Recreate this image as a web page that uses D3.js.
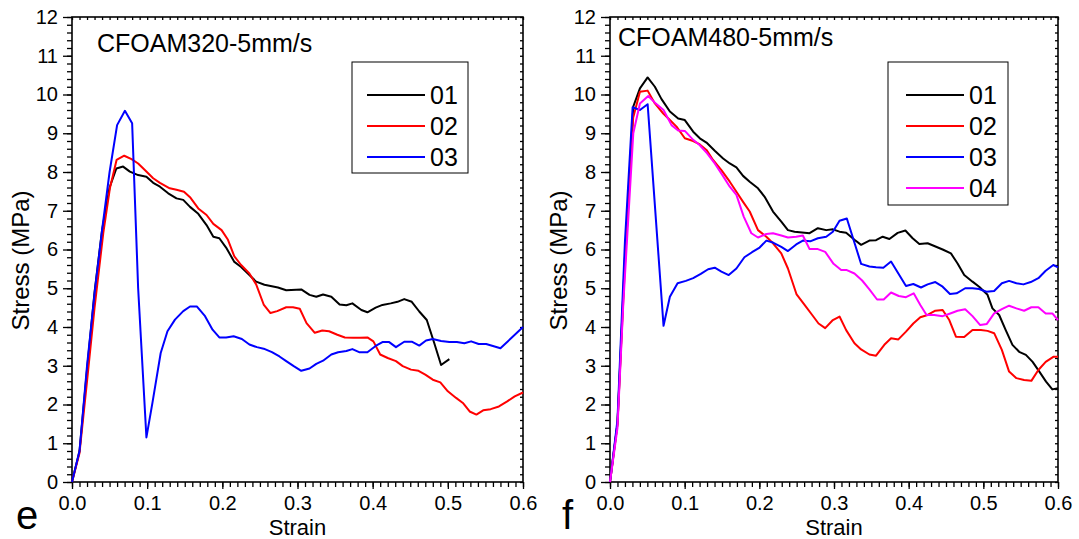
<!DOCTYPE html>
<html><head><meta charset="utf-8">
<script src="https://cdn.jsdelivr.net/npm/d3@7"></script>
<style>
body{margin:0;background:#fff;}
text{font-family:"Liberation Sans",Arial,sans-serif;fill:#000;}
</style>
</head><body>
<svg id="chart" width="1079" height="539"></svg>
<script>
// ---------------- DATA ----------------
const xTicks = [0, 0.1, 0.2, 0.3, 0.4, 0.5, 0.6];
const yTicks = [0,1,2,3,4,5,6,7,8,9,10,11,12];
const seriesNames = ["01","02","03","04"];
const seriesColors = ["#000000","#ff0000","#0000ff","#ff00ff"];

// Panel e: CFOAM320-5mm/s
const e01_strain = [0,0.01,0.02,0.03,0.04,0.05,0.059,0.068,0.077,0.088,0.099,0.108,0.117,0.128,0.139,0.148,0.157,0.168,0.179,0.188,0.196,0.205,0.216,0.225,0.236,0.245,0.256,0.274,0.285,0.305,0.316,0.325,0.334,0.345,0.356,0.365,0.373,0.385,0.393,0.404,0.413,0.424,0.433,0.442,0.452,0.462,0.472,0.482,0.491,0.502];
const e01_stress = [0,0.8,2.9,4.9,6.5,7.6,8.09,8.14,8.01,7.92,7.88,7.72,7.62,7.45,7.32,7.28,7.10,6.92,6.63,6.33,6.29,6.05,5.68,5.55,5.34,5.17,5.09,5.02,4.95,4.97,4.83,4.78,4.84,4.78,4.58,4.56,4.61,4.44,4.38,4.50,4.57,4.61,4.65,4.72,4.65,4.40,4.18,3.58,3.02,3.17];

const e02_strain = [0,0.01,0.02,0.03,0.0416,0.0504,0.0593,0.0695,0.0792,0.088,0.0969,0.108,0.117,0.130,0.139,0.149,0.157,0.168,0.179,0.188,0.199,0.2075,0.216,0.225,0.236,0.245,0.255,0.264,0.273,0.285,0.294,0.303,0.312,0.323,0.333,0.342,0.353,0.363,0.374,0.383,0.393,0.401,0.41,0.42,0.431,0.44,0.451,0.461,0.47,0.48,0.49,0.5,0.511,0.52,0.529,0.538,0.547,0.557,0.568,0.579,0.589,0.6];
const e02_stress = [0,0.75,2.6,4.5,6.42,7.58,8.31,8.42,8.33,8.22,8.05,7.84,7.72,7.58,7.54,7.49,7.35,7.06,6.89,6.66,6.50,6.25,5.82,5.60,5.38,5.10,4.58,4.36,4.41,4.51,4.51,4.47,4.10,3.85,3.91,3.89,3.80,3.73,3.72,3.72,3.73,3.63,3.29,3.20,3.12,2.99,2.90,2.87,2.77,2.64,2.57,2.34,2.17,2.04,1.82,1.74,1.85,1.88,1.95,2.08,2.21,2.31];

const e03_strain = [0,0.01,0.02,0.0305,0.04,0.05,0.06,0.0704,0.080,0.088,0.099,0.107,0.118,0.127,0.137,0.148,0.157,0.166,0.177,0.187,0.196,0.205,0.215,0.226,0.236,0.246,0.255,0.266,0.276,0.285,0.295,0.305,0.316,0.325,0.334,0.345,0.354,0.365,0.373,0.382,0.393,0.404,0.413,0.422,0.431,0.442,0.452,0.462,0.471,0.480,0.491,0.502,0.512,0.522,0.531,0.541,0.551,0.560,0.570,0.6];
const e03_stress = [0,0.8,3.0,4.95,6.5,8.0,9.21,9.58,9.26,5.0,1.15,2.04,3.33,3.89,4.19,4.41,4.53,4.53,4.28,3.93,3.73,3.73,3.76,3.69,3.55,3.48,3.44,3.35,3.24,3.12,2.99,2.87,2.93,3.05,3.13,3.29,3.35,3.38,3.43,3.35,3.35,3.51,3.61,3.61,3.48,3.62,3.62,3.52,3.65,3.69,3.64,3.61,3.61,3.58,3.63,3.56,3.56,3.51,3.45,4.0];

// Panel f: CFOAM480-5mm/s
const f01_strain = [0,0.01,0.02,0.0312,0.0401,0.0504,0.0601,0.069,0.0802,0.0913,0.1002,0.1114,0.1203,0.1292,0.1403,0.1515,0.1604,0.1693,0.1782,0.1871,0.1982,0.2071,0.2183,0.2294,0.2383,0.2472,0.2673,0.2784,0.2896,0.2985,0.3074,0.3163,0.3274,0.3363,0.3474,0.3563,0.3652,0.3742,0.3853,0.3956,0.4053,0.4143,0.4254,0.4343,0.4455,0.4566,0.4655,0.4744,0.4855,0.4944,0.5056,0.5122,0.5212,0.530,0.539,0.548,0.557,0.566,0.575,0.584,0.5924,0.6];
const f01_stress = [0,1.5,5.8,9.69,10.16,10.44,10.20,9.88,9.56,9.38,9.34,9.04,8.87,8.76,8.55,8.35,8.22,8.12,7.90,7.75,7.58,7.36,6.98,6.72,6.50,6.46,6.42,6.55,6.50,6.52,6.46,6.43,6.25,6.12,6.23,6.24,6.33,6.27,6.43,6.49,6.29,6.14,6.16,6.09,6.0,5.90,5.64,5.34,5.17,5.04,4.83,4.48,4.31,3.92,3.54,3.36,3.28,3.10,2.85,2.59,2.39,2.42];

const f02_strain = [0,0.01,0.02,0.031,0.0401,0.0504,0.0601,0.0713,0.0802,0.0891,0.1002,0.1114,0.1203,0.1292,0.138,0.1492,0.1604,0.1693,0.1782,0.1871,0.1982,0.2094,0.2183,0.2294,0.2383,0.2499,0.2606,0.2708,0.2793,0.2882,0.2985,0.3074,0.3163,0.3274,0.3363,0.3474,0.3563,0.3674,0.3764,0.3862,0.3964,0.4062,0.4156,0.4254,0.4357,0.4455,0.4544,0.4633,0.4744,0.4855,0.4967,0.5056,0.5145,0.5248,0.5345,0.5443,0.5546,0.5643,0.5737,0.5835,0.5937,0.6];
const f02_stress = [0,1.5,5.6,9.4,10.07,10.10,9.77,9.51,9.34,9.17,8.87,8.80,8.71,8.57,8.31,8.05,7.75,7.49,7.23,6.98,6.50,6.33,6.16,5.90,5.51,4.84,4.57,4.31,4.09,3.97,4.18,4.27,3.92,3.58,3.42,3.29,3.26,3.54,3.71,3.68,3.88,4.09,4.25,4.31,4.42,4.44,4.18,3.75,3.74,3.92,3.92,3.90,3.84,3.41,2.85,2.68,2.63,2.61,2.89,3.10,3.23,3.23];

const f03_strain = [0,0.01,0.02,0.0303,0.0401,0.0504,0.0717,0.0802,0.0905,0.1016,0.1114,0.1216,0.1314,0.1403,0.1492,0.1590,0.1693,0.180,0.1902,0.2004,0.2094,0.2183,0.2294,0.2383,0.2494,0.2583,0.2681,0.2784,0.2896,0.2985,0.3074,0.3172,0.3363,0.3474,0.3563,0.3661,0.3764,0.3862,0.3964,0.4062,0.4165,0.4254,0.4357,0.4455,0.4553,0.4642,0.4757,0.4855,0.4944,0.5042,0.5145,0.5248,0.5345,0.5443,0.5537,0.5635,0.5737,0.5835,0.5937,0.6];
const f03_stress = [0,1.6,6.2,9.67,9.60,9.75,4.03,4.78,5.13,5.19,5.26,5.37,5.49,5.53,5.43,5.34,5.51,5.80,5.93,6.05,6.23,6.18,6.07,5.96,6.13,6.23,6.21,6.29,6.33,6.46,6.74,6.80,5.63,5.56,5.54,5.53,5.69,5.38,5.06,5.11,5.02,5.10,5.16,5.04,4.85,4.87,5.0,5.0,4.98,4.91,4.93,5.13,5.19,5.13,5.10,5.16,5.26,5.45,5.60,5.54];

const f04_strain = [0,0.01,0.0178,0.0312,0.0401,0.0512,0.0601,0.0717,0.0824,0.0913,0.1002,0.1114,0.1203,0.1301,0.1403,0.1506,0.1604,0.1693,0.1791,0.1893,0.1982,0.2094,0.2183,0.2294,0.2383,0.2494,0.2583,0.2673,0.2784,0.2882,0.2994,0.3096,0.3172,0.3274,0.3377,0.3474,0.3577,0.3666,0.3764,0.3867,0.3964,0.4067,0.4156,0.424,0.4343,0.4455,0.4557,0.4655,0.4757,0.4855,0.4958,0.5047,0.5145,0.5248,0.5345,0.5443,0.5546,0.5643,0.5737,0.5835,0.5924,0.6];
const f04_stress = [0,1.4,4.6,9.0,9.77,9.96,9.79,9.60,9.21,9.07,9.06,8.83,8.69,8.48,8.22,7.92,7.62,7.41,6.85,6.42,6.31,6.40,6.42,6.36,6.31,6.33,6.36,6.01,6.01,5.94,5.63,5.47,5.47,5.38,5.20,4.97,4.71,4.71,4.89,4.80,4.77,4.87,4.57,4.31,4.31,4.28,4.35,4.42,4.46,4.28,4.05,4.08,4.35,4.46,4.55,4.48,4.42,4.51,4.51,4.35,4.35,4.18];

// ---------------- DRAW ----------------
const svg = d3.select("#chart");

function drawPanel(p) {
  const x = d3.scaleLinear().domain([0, 0.6]).range([p.left, p.right]);
  const y = d3.scaleLinear().domain([0, 12]).range([p.bottom, p.top]);
  const g = svg.append("g");

  const minorX = d3.range(0, 0.6001, 0.01).map(v => +v.toFixed(2));
  const minorY = d3.range(0, 12.001, 0.2).map(v => +v.toFixed(1));

  function styleAxis(sel) {
    sel.select(".domain").remove();
    sel.selectAll(".tick line").attr("stroke", "#000").attr("stroke-width", 1.3);
    sel.selectAll(".tick text").style("font-size", "20px").attr("font-family", "Liberation Sans, Arial, sans-serif");
  }

  g.append("g").attr("transform", `translate(0,${p.bottom})`)
    .call(d3.axisBottom(x).tickValues(minorX).tickSize(5).tickFormat(""))
    .call(styleAxis);
  g.append("g").attr("transform", `translate(0,${p.bottom})`)
    .call(d3.axisBottom(x).tickValues(xTicks).tickSize(7).tickPadding(7).tickFormat(d3.format(".1f")))
    .call(styleAxis);
  g.append("g").attr("transform", `translate(0,${p.top})`)
    .call(d3.axisTop(x).tickValues(minorX).tickSize(-3).tickFormat(""))
    .call(styleAxis);
  g.append("g").attr("transform", `translate(${p.left},0)`)
    .call(d3.axisLeft(y).tickValues(minorY).tickSize(5).tickFormat(""))
    .call(styleAxis);
  g.append("g").attr("transform", `translate(${p.left},0)`)
    .call(d3.axisLeft(y).tickValues(yTicks).tickSize(9).tickPadding(5).tickFormat(d3.format("d")))
    .call(styleAxis);
  g.append("g").attr("transform", `translate(${p.right},0)`)
    .call(d3.axisRight(y).tickValues(minorY).tickSize(-3).tickFormat(""))
    .call(styleAxis);

  g.append("rect").attr("x", p.left).attr("y", p.top)
    .attr("width", p.right - p.left).attr("height", p.bottom - p.top)
    .attr("fill", "none").attr("stroke", "#000").attr("stroke-width", 1.6);

  const line = d3.line().x(d => x(d[0])).y(d => y(d[1]));
  p.series.forEach((s, i) => {
    const pts = s.strain.map((v, k) => [v, s.stress[k]]);
    g.append("path").datum(pts).attr("d", line)
      .attr("fill", "none").attr("stroke", seriesColors[i]).attr("stroke-width", 2)
      .attr("stroke-linejoin", "round");
  });

  g.append("text").attr("x", p.titleX).attr("y", p.titleY)
    .style("font-size", "25px").text(p.title);

  const lg = g.append("g");
  lg.append("rect").attr("x", p.lg.x).attr("y", p.lg.y).attr("width", p.lg.w).attr("height", p.lg.h)
    .attr("fill", "#fff").attr("stroke", "#000").attr("stroke-width", 1);
  p.series.forEach((s, i) => {
    const yy = p.lg.y0 + i * 31;
    lg.append("line").attr("x1", p.lg.lx1).attr("x2", p.lg.lx2).attr("y1", yy).attr("y2", yy)
      .attr("stroke", seriesColors[i]).attr("stroke-width", 2);
    lg.append("text").attr("x", p.lg.tx).attr("y", yy).attr("dy", "0.36em")
      .style("font-size", "25px").text(seriesNames[i]);
  });

  g.append("text").attr("x", (p.left + p.right) / 2).attr("y", 534.5)
    .attr("text-anchor", "middle").style("font-size", "22px").text("Strain");
  g.append("text").attr("transform", `translate(${p.left - 43},${(p.top + p.bottom) / 2 + 11}) rotate(-90)`)
    .attr("text-anchor", "middle").style("font-size", "24px").text("Stress (MPa)");

  g.append("text").attr("x", p.letterX).attr("y", 529)
    .style("font-size", "40px").text(p.letter);
}

drawPanel({
  left: 72, right: 523, top: 17, bottom: 482,
  title: "CFOAM320-5mm/s", titleX: 97, titleY: 52,
  letter: "e", letterX: 16,
  lg: {x: 352, y: 62, w: 116, h: 111, y0: 95, lx1: 367, lx2: 425, tx: 430},
  series: [
    {strain: e01_strain, stress: e01_stress},
    {strain: e02_strain, stress: e02_stress},
    {strain: e03_strain, stress: e03_stress}
  ]
});

drawPanel({
  left: 610, right: 1058, top: 17, bottom: 482,
  title: "CFOAM480-5mm/s", titleX: 618, titleY: 46,
  letter: "f", letterX: 562,
  lg: {x: 888, y: 62, w: 120, h: 143, y0: 95, lx1: 906, lx2: 964, tx: 969},
  series: [
    {strain: f01_strain, stress: f01_stress},
    {strain: f02_strain, stress: f02_stress},
    {strain: f03_strain, stress: f03_stress},
    {strain: f04_strain, stress: f04_stress}
  ]
});
</script>
</body></html>
